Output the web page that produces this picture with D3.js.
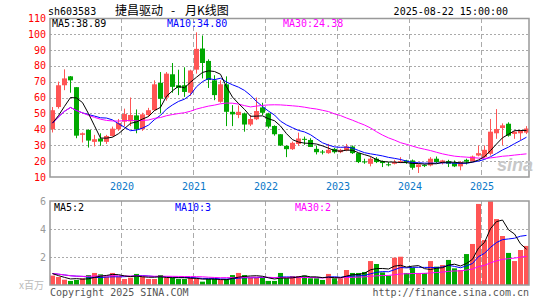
<!DOCTYPE html>
<html>
<head>
<meta charset="utf-8">
<script src="https://cdn.jsdelivr.net/npm/d3@7"></script>
<style>
body { margin: 0; background: #fff; }
svg { display: block; }
</style>
</head>
<body>
<svg id="chart" width="545" height="300"></svg>
<script>
// monthly K-line, Jan 2019 .. Aug 2025
var months = d3.timeMonth.range(new Date(2019, 0, 1), new Date(2025, 8, 1));
var years = ["2020", "2021", "2022", "2023", "2024", "2025"];

var open  = [40, 54, 67.7, 73.3, 66.5, 36.5, 39.6, 32.1, 34.2, 32.1,
             35.8, 40, 44.8, 45, 48.75, 40, 49, 52, 69.2, 60,
             74.6, 67.7, 67.7, 63, 77.5, 90.8, 83, 70.8, 57.3, 68.3,
             51, 49, 50, 43, 46.3, 53.75, 50, 42.1, 36.9, 29.6,
             27.5, 30.8, 34, 33.3, 27.7, 26, 25, 27.7, 25.6, 26.7,
             29.2, 25, 19.8, 18.3, 21.5, 20, 18, 18.3, 19.6, 20.4,
             20.4, 16.25, 17.5, 17.3, 21.5, 18.75, 20, 18.75, 16.7, 20.8,
             20, 23.5, 22.5, 24.6, 37.5, 40.8, 43.5, 37.1, 37.5, 37.9];
var high  = [54, 70, 77.7, 73.5, 66.5, 38, 40, 36.5, 37.5, 36.5,
             41.7, 46.5, 53, 60, 52.5, 50.4, 53.5, 70.8, 76, 76,
             81.7, 77.5, 79, 77.5, 101, 99, 84, 74, 70.8, 73.3,
             55.2, 55, 50.5, 49, 60, 56.7, 50.4, 42.5, 37, 30,
             32.3, 37.9, 35.4, 34.4, 29.8, 27, 30.8, 28.3, 27.7, 30.8,
             29.8, 25, 21.5, 22.7, 22.5, 20.4, 19.4, 20.8, 22.5, 20.8,
             21, 18.3, 17.9, 22.5, 22.9, 20.8, 20.8, 20.4, 20, 21.5,
             23.5, 29.8, 29.8, 46.5, 52.7, 43.75, 44.4, 39.2, 39.6, 42];
var low   = [38, 53, 64.6, 63, 34.4, 31.7, 28.5, 29.2, 29.6, 30.8,
             35.4, 39, 42, 42, 37.5, 39, 48, 51.5, 50, 58,
             63, 61.5, 60.4, 61, 75, 72, 66, 58.3, 56.7, 42,
             42, 47, 38.5, 42, 45.8, 49, 40.6, 36, 29.5, 22.5,
             27, 29.6, 30.2, 29.2, 24.2, 24.2, 24.6, 24.8, 25, 26.2,
             24.5, 18.75, 18.3, 16.7, 18.75, 16.25, 16.7, 17.9, 18.75, 18.3,
             14.6, 12.5, 16.25, 16.7, 18.75, 17.9, 16.25, 16.25, 14.2, 17.9,
             19.6, 23, 22, 23.5, 34, 30, 35.4, 34, 33.3, 37];
var close = [52, 67.7, 72, 70.8, 36, 37.5, 32.9, 33.75, 32.3, 35.8,
             40.4, 44, 49.6, 49, 40.2, 49.4, 52, 68.3, 59.2, 75,
             66.7, 66, 63.5, 77, 90.6, 81.7, 71, 61.5, 68.3, 51,
             49.4, 51, 43, 46.5, 51.5, 50.4, 41.7, 36.9, 29.8, 27.5,
             31.5, 34.2, 33.5, 28.9, 25.6, 25.6, 27.1, 25.6, 27.1, 29.2,
             25, 19.4, 19.6, 21.5, 19.4, 18.75, 17.9, 19.4, 20, 19.4,
             15.8, 17.9, 17.1, 21.5, 19.4, 20.4, 18.3, 16.7, 19.4, 19.6,
             22.9, 25, 27.1, 38.5, 40.2, 42.5, 36, 38.5, 39, 40.5];
// volume, millions
var volume = [0.67, 0.57, 0.38, 0.29, 0.36, 0.48, 0.71, 0.86, 0.76, 0.6,
              0.86, 0.6, 0.43, 0.52, 0.79, 0.6, 0.43, 0.43, 0.71, 0.52,
              0.52, 0.43, 0.43, 0.52, 0.48, 0.24, 0.43, 0.43, 0.36, 0.43,
              0.71, 0.86, 0.71, 0.52, 0.52, 0.52, 0.29, 0.29, 0.86, 0.48,
              0.64, 0.64, 0.67, 0.48, 0.48, 0.36, 0.79, 0.48, 0.48, 1.07,
              0.86, 0.86, 0.93, 1.71, 1.5, 0.9, 0.67, 1.95, 2.02, 0.86,
              1.24, 0.86, 0.86, 1.71, 1.31, 1.43, 1.79, 1.19, 1.07, 2.21,
              2.93, 5.79, 3.21, 6.0, 4.71, 3.5, 2.29, 1.71, 2.5, 2.79];
var priorClose = [44, 43, 43, 37.5];
var priorVolume = [1.3, 1.0, 0.85, 0.25];

var RED = "#ff5555", GREEN = "#00a800";
var MONO = "'DejaVu Sans Mono', monospace";

var svg = d3.select("#chart");

var x = d3.scaleBand()
    .domain(d3.range(months.length))
    .range([50, 530])
    .paddingInner(1 / 6)
    .paddingOuter(0);
var cx = i => Math.floor(50 + i * 6) + 2.5;

var y = d3.scaleLinear().domain([10, 110]).range([177, 18]);
var yv = d3.scaleLinear().domain([0, 6]).range([285, 201]);

// moving average with partial window at the start (as sina draws it)
function ma(prior, vals, n) {
    var all = prior.concat(vals);
    return vals.map(function(v, i) {
        var end = i + prior.length + 1;
        var win = all.slice(Math.max(0, end - n), end);
        return d3.mean(win);
    });
}

var yearIdx = years.map(yr => months.findIndex(m => m.getFullYear() == +yr));

function panel(top, bottom, yscale, gridVals) {
    var g = svg.append("g");
    g.selectAll(".hg")
        .data(gridVals)
        .enter()
        .append("line")
        .attr("x1", 50).attr("x2", 529)
        .attr("y1", d => Math.round(yscale(d)) + 0.5)
        .attr("y2", d => Math.round(yscale(d)) + 0.5)
        .attr("stroke", "#aaa")
        .attr("stroke-dasharray", "2,2");
    g.selectAll(".vg")
        .data(yearIdx)
        .enter()
        .append("line")
        .attr("x1", d => Math.floor(50 + d * 6) - 0.5)
        .attr("x2", d => Math.floor(50 + d * 6) - 0.5)
        .attr("y1", top).attr("y2", bottom)
        .attr("stroke", "#aaa")
        .attr("stroke-dasharray", "5,3");
    return g;
}

// ---- main price panel
panel(18, 177, y, [20, 30, 40, 50, 60, 70, 80, 90, 100]);

var candles = svg.append("g");
candles.selectAll(".wick")
    .data(months)
    .enter()
    .append("line")
    .attr("x1", (d, i) => cx(i))
    .attr("x2", (d, i) => cx(i))
    .attr("y1", (d, i) => y(high[i]))
    .attr("y2", (d, i) => y(low[i]))
    .attr("stroke", (d, i) => close[i] >= open[i] ? RED : GREEN);
candles.selectAll(".body")
    .data(months)
    .enter()
    .append("rect")
    .attr("x", (d, i) => cx(i) - 2.5)
    .attr("width", x.bandwidth())
    .attr("y", (d, i) => y(Math.max(open[i], close[i])))
    .attr("height", (d, i) => Math.max(1, Math.abs(y(open[i]) - y(close[i]))))
    .attr("fill", (d, i) => close[i] >= open[i] ? RED : GREEN);

// draw order: MA30 covers MA10 where they coincide, MA5 on top
var line = d3.line().x((d, i) => cx(i)).y(d => y(d));
svg.append("path").datum(ma(priorClose, close, 10)).attr("d", line)
    .attr("fill", "none").attr("stroke", "#0000ff").attr("stroke-width", 1);
svg.append("path").datum(ma(priorClose, close, 30)).attr("d", line)
    .attr("fill", "none").attr("stroke", "#ff00ff").attr("stroke-width", 1);
svg.append("path").datum(ma(priorClose, close, 5)).attr("d", line)
    .attr("fill", "none").attr("stroke", "#000").attr("stroke-width", 1);

svg.append("rect")
    .attr("x", 50).attr("y", 18.5).attr("width", 479).attr("height", 158.5)
    .attr("fill", "none").attr("stroke", "#999").attr("stroke-width", 1.5);

var ya = svg.append("g")
    .attr("transform", "translate(50,0)")
    .call(d3.axisLeft(y).tickValues(d3.range(10, 111, 10)).tickSize(0).tickPadding(4));
ya.select(".domain").remove();
ya.selectAll("text").attr("fill", "#ff0000").style("font-family", MONO).style("font-size", "10px");

svg.selectAll(".yr")
    .data(years)
    .enter()
    .append("text")
    .attr("x", (d, i) => Math.floor(50 + yearIdx[i] * 6))
    .attr("y", 189.5)
    .attr("text-anchor", "middle")
    .attr("fill", "#0a78c8")
    .style("font-family", MONO).style("font-size", "10px")
    .text(d => d);

// watermark
svg.append("text")
    .attr("x", 497).attr("y", 171)
    .attr("fill", "#c8c8c8")
    .style("font-family", "'Liberation Sans', Arial, sans-serif")
    .style("font-size", "18px").style("font-weight", "bold").style("font-style", "italic")
    .text("sina");

// ---- volume panel
panel(201, 285, yv, [2, 4]);

svg.append("g").selectAll(".vol")
    .data(volume)
    .enter()
    .append("rect")
    .attr("x", (d, i) => cx(i) - 2.5)
    .attr("width", x.bandwidth())
    .attr("y", d => yv(d))
    .attr("height", d => yv(0) - yv(d))
    .attr("fill", (d, i) => close[i] >= open[i] ? RED : GREEN);

var vline = d3.line().x((d, i) => cx(i)).y(d => yv(d));
svg.append("path").datum(ma(priorVolume, volume, 10)).attr("d", vline)
    .attr("fill", "none").attr("stroke", "#0000ff");
svg.append("path").datum(ma(priorVolume, volume, 30)).attr("d", vline)
    .attr("fill", "none").attr("stroke", "#ff00ff");
svg.append("path").datum(ma(priorVolume, volume, 5)).attr("d", vline)
    .attr("fill", "none").attr("stroke", "#000");

svg.append("rect")
    .attr("x", 50).attr("y", 201).attr("width", 479).attr("height", 84)
    .attr("fill", "none").attr("stroke", "#999").attr("stroke-width", 1.5);

var va = svg.append("g")
    .attr("transform", "translate(50,0)")
    .call(d3.axisLeft(yv).tickValues([2, 4, 6]).tickFormat(d3.format("d")).tickSize(0).tickPadding(4));
va.select(".domain").remove();
va.selectAll("text").attr("fill", "#999").style("font-family", MONO).style("font-size", "10px");

// ---- texts
function txt(s, px, py, color, anchor, font, size) {
    svg.append("text")
        .attr("x", px).attr("y", py)
        .attr("fill", color)
        .attr("text-anchor", anchor || "start")
        .style("font-family", font || MONO)
        .style("font-size", (size || 10) + "px")
        .text(s);
}
var CJK = "'Noto Sans CJK SC', sans-serif";
txt("sh603583", 48, 15, "#000");
txt("捷昌驱动", 115, 15, "#000", "start", CJK, 12);
txt("-", 173, 15, "#000", "middle", CJK, 12);
txt("月K线图", 185, 15, "#000", "start", CJK, 12);
txt("2025-08-22 15:00:00", 508, 15, "#000", "end");
txt("MA5:38.89", 52, 27, "#000");
txt("MA10:34.80", 167, 27, "#0000ff");
txt("MA30:24.38", 283, 27, "#ff00ff");
txt("MA5:2", 54, 211, "#000");
txt("MA10:3", 175, 211, "#0000ff");
txt("MA30:2", 295, 211, "#ff00ff");
txt("x百万", 19, 289, "#bbb", "start", CJK, 10);
txt("Copyright 2025 SINA.COM", 50, 296, "#555");
txt("http://finance.sina.com.cn", 529, 296, "#555", "end");
</script>
</body>
</html>
